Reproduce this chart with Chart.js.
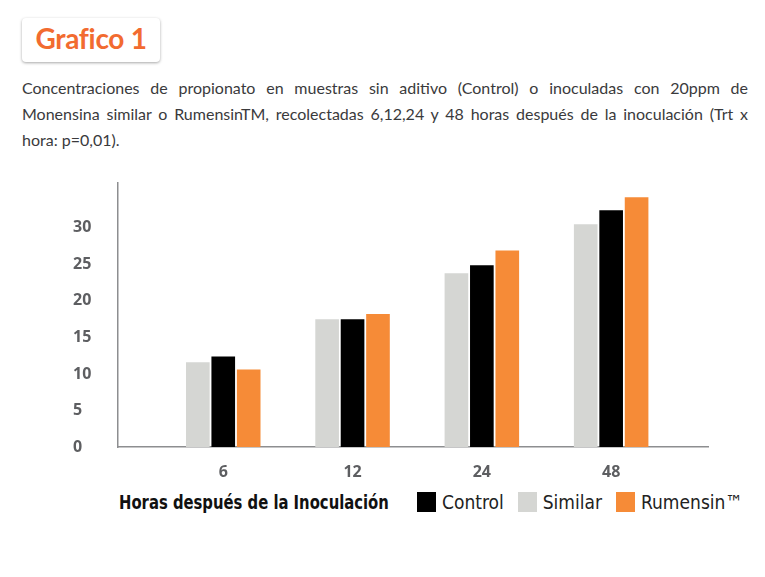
<!DOCTYPE html>
<html>
<head>
<meta charset="utf-8">
<script src="https://cdn.jsdelivr.net/npm/chart.js@4.4.1/dist/chart.umd.min.js"></script>
<style>
  body { margin:0; width:765px; height:577px; background:#fff; position:relative; overflow:hidden; font-family:'Lato',sans-serif; }
  #badge { position:absolute; left:22px; top:18px; width:138px; height:44px; background:#fff; border-radius:4px;
    box-shadow:0 1px 3px rgba(0,0,0,0.35); }
  #badge span { position:absolute; left:0; right:0; top:3px; text-align:center; color:#f26b30;
    font:700 28px 'Lato',sans-serif; letter-spacing:-0.3px; }
  #desc { position:absolute; left:22px; top:75px; width:726px; color:#3a3a3c; font-size:16px; line-height:26px; }
  #desc div { text-align:justify; text-align-last:justify; white-space:nowrap; }
  #desc div.last { text-align-last:left; }
  #wrap { position:absolute; left:0; top:170px; width:765px; height:310px; }
  .cond { font-family:'DejaVu Sans Condensed','DejaVu Sans',sans-serif; font-stretch:condensed; }
  #xtitle { position:absolute; left:119px; top:491px; font-weight:700; font-size:19px; color:#111;
    white-space:nowrap; transform:scaleX(0.867); transform-origin:left center; }
  #legend { position:absolute; left:417px; top:491px; display:flex; align-items:center; font-size:19px; color:#222; }
  #legend .item { display:flex; align-items:center; margin-right:14px; }
  #legend .box { width:19px; height:20px; margin-right:6px; }
</style>
</head>
<body>
<div id="badge"><span>Grafico 1</span></div>
<div id="desc">
  <div>Concentraciones de propionato en muestras sin aditivo (Control) o inoculadas con 20ppm de</div>
  <div>Monensina similar o RumensinTM, recolectadas 6,12,24 y 48 horas después de la inoculación (Trt x</div>
  <div class="last">hora: p=0,01).</div>
</div>
<div id="wrap"><canvas id="mycanvas"></canvas></div>
<div id="xtitle" class="cond">Horas después de la Inoculación</div>
<div id="legend" class="cond"></div>
<script>
var hours = ['6', '12', '24', '48'];
var similar = [11.6, 17.5, 23.8, 30.5];
var control = [12.4, 17.5, 24.9, 32.4];
var rumensin = [10.6, 18.2, 26.9, 34.2];
var yTicks = [0, 5, 10, 15, 20, 25, 30];
var legendOrder = ['Control', 'Similar', 'Rumensin™'];

function points(arr) {
  return arr.map(function(v, i) { return { x: i + 1, y: v }; });
}

var chartdata = {
  datasets: [
    { label: 'Similar', backgroundColor: '#d5d6d3', data: points(similar) },
    { label: 'Control', backgroundColor: '#000000', data: points(control) },
    { label: 'Rumensin™', backgroundColor: '#f68b37', data: points(rumensin) }
  ]
};

var tickFont = { family: 'Open Sans', size: 16, weight: 'bold' };

var chart = new Chart(document.getElementById('mycanvas'), {
  type: 'bar',
  data: chartdata,
  options: {
    responsive: true,
    maintainAspectRatio: false,
    animation: false,
    layout: { padding: { left: 73, right: 57, top: 8, bottom: 0 } },
    categoryPercentage: 0.59,
    barPercentage: 0.93,
    plugins: { legend: { display: false }, tooltip: { enabled: false } },
    scales: {
      x: {
        type: 'linear',
        offset: false,
        min: 0.186,
        max: 4.749,
        grid: { display: false, offset: false },
        border: { display: true, color: '#8d8e90', width: 1.5 },
        afterBuildTicks: function(scale) {
          scale.ticks = hours.map(function(h, i) { return { value: i + 1 }; });
        },
        afterFit: function(scale) { scale.height = 33; },
        ticks: {
          padding: 8,
          color: '#5d5e61',
          font: tickFont,
          callback: function(v) { return hours[v - 1]; }
        }
      },
      y: {
        min: 0,
        max: 36.2,
        grid: { display: false },
        border: { display: true, color: '#8d8e90', width: 1.5 },
        afterBuildTicks: function(scale) {
          scale.ticks = yTicks.map(function(v) { return { value: v }; });
        },
        afterFit: function(scale) { scale.width = 45; },
        ticks: { crossAlign: 'far', color: '#5d5e61', font: tickFont }
      }
    }
  }
});

// html legend in the reference order
var leg = document.getElementById('legend');
legendOrder.forEach(function(name) {
  var ds = chart.data.datasets.find(function(d) { return d.label === name; });
  var item = document.createElement('div');
  item.className = 'item';
  item.innerHTML = '<span class="box" style="background:' + ds.backgroundColor + '"></span><span>' + ds.label + '</span>';
  leg.appendChild(item);
});
</script>
</body>
</html>
